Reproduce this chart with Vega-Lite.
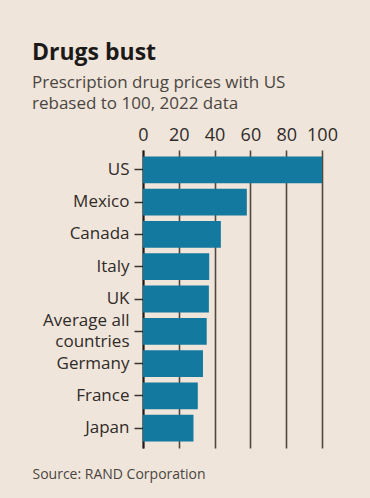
{
  "$schema": "https://vega.github.io/schema/vega-lite/v6.json",
  "width": 179,
  "height": 298,
  "autosize": {"type": "none"},
  "padding": {"left": 143, "top": 150, "right": 48, "bottom": 50},
  "background": "#f0e5da",
  "config": {
    "view": {"stroke": null},
    "font": "Open Sans"
  },
  "title": {
    "text": "Drugs bust",
    "subtitle": ["Prescription drug prices with US", "rebased to 100, 2022 data"],
    "anchor": "start",
    "frame": "group",
    "dx": -111,
    "offset": 14,
    "font": "Open Sans",
    "fontSize": 23,
    "fontWeight": "bold",
    "color": "#1c1a19",
    "subtitleFont": "Open Sans",
    "subtitleFontSize": 17,
    "subtitleColor": "#4a4542",
    "subtitleLineHeight": 21.5,
    "subtitlePadding": 10
  },
  "data": {
    "values": [
      {"country": "US", "value": 100},
      {"country": "Mexico", "value": 58},
      {"country": "Canada", "value": 43.5},
      {"country": "Italy", "value": 37},
      {"country": "UK", "value": 36.8},
      {"country": "Average all countries", "value": 35.6},
      {"country": "Germany", "value": 33.5},
      {"country": "France", "value": 30.6},
      {"country": "Japan", "value": 28.2}
    ]
  },
  "layer": [
    {
      "mark": {"type": "bar", "color": "#13799f"},
      "encoding": {
        "y": {
          "field": "country",
          "type": "nominal",
          "sort": null,
          "scale": {"paddingInner": 0.17, "paddingOuter": 0.2},
          "axis": {
            "title": null,
            "domain": true,
            "domainColor": "#1e1b1a",
            "domainWidth": 2,
            "ticks": true,
            "tickSize": 9,
            "tickColor": "#3a3532",
            "tickWidth": 1.5,
            "labelPadding": 5,
            "labelFont": "Open Sans",
            "labelFontSize": 17,
            "labelColor": "#2f2b29",
            "labelLineHeight": 21,
            "labelOffset": {"condition": {"test": "datum.value == 'Average all countries'", "value": -10.5}, "value": 0},
            "labelExpr": "datum.label == 'Average all countries' ? ['Average all', 'countries'] : datum.label"
          }
        },
        "x": {
          "field": "value",
          "type": "quantitative",
          "scale": {"domain": [0, 100], "nice": false},
          "axis": {
            "orient": "top",
            "title": null,
            "values": [0, 20, 40, 60, 80, 100],
            "domain": false,
            "ticks": false,
            "labelPadding": 6,
            "labelFont": "Open Sans",
            "labelFontSize": 18,
            "labelColor": "#2f2b29",
            "labelFlush": false,
            "grid": true,
            "gridColor": "#51483f",
            "gridWidth": 1.6,
            "zindex": 0
          }
        }
      }
    },
    {
      "mark": {"type": "bar", "opacity": 0},
      "encoding": {
        "y": {"field": "country", "type": "nominal", "sort": null},
        "x": {
          "field": "value",
          "type": "quantitative",
          "axis": {
            "orient": "bottom",
            "title": "Source: RAND Corporation",
            "labels": false,
            "ticks": false,
            "domain": false,
            "grid": false,
            "titleAnchor": "start",
            "titleAlign": "left",
            "titleX": -111,
            "titleY": 26,
            "titleBaseline": "middle",
            "titleFont": "Open Sans",
            "titleFontSize": 14,
            "titleFontWeight": "normal",
            "titleColor": "#4a4542"
          }
        }
      }
    }
  ],
  "resolve": {"axis": {"x": "independent"}}
}
